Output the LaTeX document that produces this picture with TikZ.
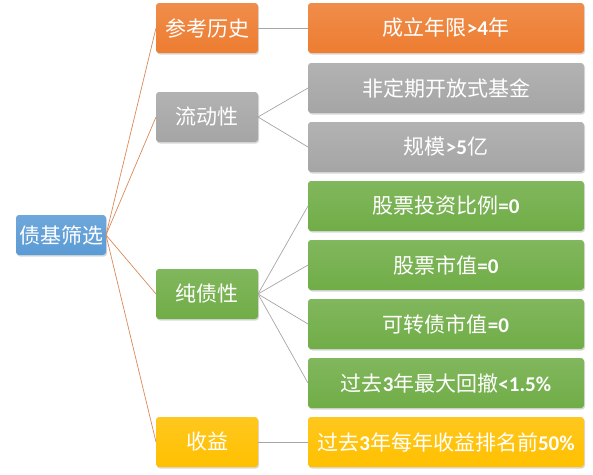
\documentclass[tikz,border=0pt]{standalone}
\usepackage{fontspec}
\setmainfont{Noto Sans CJK SC}
\newfontfamily\latinfont{Carlito}
\usetikzlibrary{shadows}
\definecolor{boxorange}{HTML}{ED7D31}
\definecolor{boxgray}{HTML}{A5A5A5}
\definecolor{boxgreen}{HTML}{70AD47}
\definecolor{boxyellow}{HTML}{FFC000}
\definecolor{boxblue}{HTML}{5B9BD5}
\definecolor{lineorange}{HTML}{D9895A}
\definecolor{linegray}{HTML}{A6A6A6}
\newcommand{\lat}[1]{{\latinfont\bfseries #1}}
\tikzset{
	box_style/.style = {shape=rectangle, rounded corners=3pt, inner sep=0pt, outer sep=0pt, text=white, font=\fontsize{21}{24}\selectfont, minimum height=50pt, drop shadow={shadow xshift=1pt, shadow yshift=-1.5pt, opacity=0.3}},
	orange/.style = {box_style, top color=boxorange!88!white, bottom color=boxorange},
	gray/.style = {box_style, top color=boxgray!85!white, bottom color=boxgray},
	green/.style = {box_style, top color=boxgreen!88!white, bottom color=boxgreen},
	yellow/.style = {box_style, top color=boxyellow!88!white, bottom color=boxyellow},
	blue/.style = {box_style, top color=boxblue!88!white, bottom color=boxblue, minimum width=90pt, minimum height=40pt}
}

\begin{document}
\begin{tikzpicture}[x=1pt, y=-1pt,
	mid_style/.style={minimum width=102pt},
	leaf_style/.style={minimum width=276pt},
	root_edge/.style={draw=lineorange, line width=0.7pt},
	leaf_edge/.style={draw=linegray, line width=0.7pt}
	]
	\useasboundingbox (0,0) rectangle (593,474);
	% all the nodes
	\node[blue] (root) at (61,235) {债基筛选};

	\node[orange, mid_style] (hist) at (207,28) {参考历史};
	\node[gray, mid_style] (liq) at (207,117) {流动性};
	\node[green, mid_style] (pure) at (207,294) {纯债性};
	\node[yellow, mid_style] (ret) at (207,442) {收益};

	\node[orange, leaf_style] (h1) at (446,28) {成立年限\lat{>4}年};
	\node[gray, leaf_style] (l1) at (446,88) {非定期开放式基金};
	\node[gray, leaf_style] (l2) at (446,147) {规模\lat{>5}亿};
	\node[green, leaf_style] (p1) at (446,206) {股票投资比例\lat{=0}};
	\node[green, leaf_style] (p2) at (446,265) {股票市值\lat{=0}};
	\node[green, leaf_style] (p3) at (446,324) {可转债市值\lat{=0}};
	\node[green, leaf_style] (p4) at (446,383) {过去\lat{3}年最大回撤\lat{<1.5\%}};
	\node[yellow, leaf_style] (r1) at (446,442) {过去\lat{3}年每年收益排名前\lat{50\%}};

	\draw[root_edge] (root.east) -- (hist.west);
	\draw[root_edge] (root.east) -- (liq.west);
	\draw[root_edge] (root.east) -- (pure.west);
	\draw[root_edge] (root.east) -- (ret.west);

	\draw[leaf_edge] (hist.east) -- (h1.west);
	\draw[leaf_edge] (liq.east) -- (l1.west);
	\draw[leaf_edge] (liq.east) -- (l2.west);
	\draw[leaf_edge] (pure.east) -- (p1.west);
	\draw[leaf_edge] (pure.east) -- (p2.west);
	\draw[leaf_edge] (pure.east) -- (p3.west);
	\draw[leaf_edge] (pure.east) -- (p4.west);
	\draw[leaf_edge] (ret.east) -- (r1.west);
\end{tikzpicture}
\end{document}
